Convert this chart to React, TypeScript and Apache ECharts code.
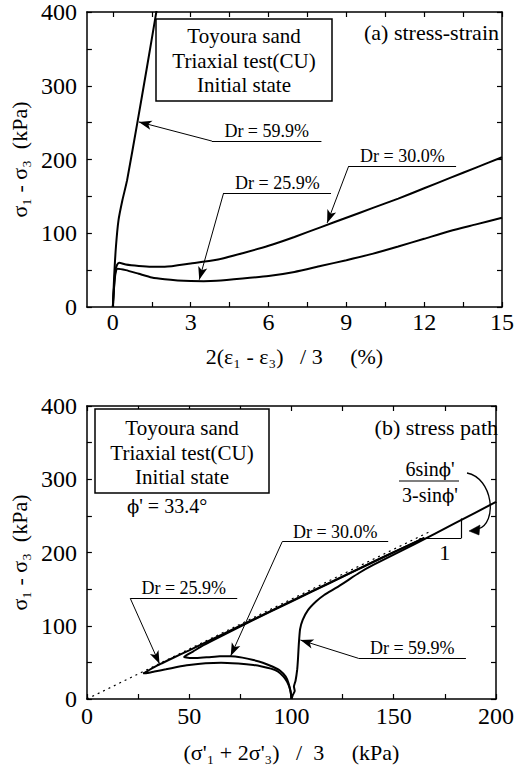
import React, { useEffect, useRef } from "react";
import * as echarts from "echarts";

// ---------- data ----------
// (a) stress-strain: [axial strain measure (%), deviator stress (kPa)]
const dr599Strain: number[][] = [
  [0, 0], [0.05, 41], [0.12, 82], [0.22, 118], [0.37, 145], [0.55, 172],
  [0.95, 251], [1.3, 322], [1.7, 405],
];
const dr300Strain: number[][] = [
  [0, 0], [0.05, 30], [0.1, 50], [0.16, 57], [0.24, 60], [0.5, 57.5], [1, 55.5],
  [1.5, 54.5], [2, 54.5], [3, 59], [4, 64], [5, 73], [6, 83], [7, 95], [8, 108],
  [9, 121], [10, 134], [11, 147], [12, 161], [13, 175], [14, 189], [15, 203],
];
const dr259Strain: number[][] = [
  [0, 0], [0.05, 28], [0.1, 45], [0.18, 52], [0.5, 50], [1, 45], [1.5, 40],
  [2, 37.5], [2.5, 36], [3, 35.2], [3.5, 35], [4, 35.5], [5, 38.5], [6, 42],
  [7, 47.5], [8, 55.5], [9, 63.5], [10, 72], [11, 82], [12, 92.5], [13, 103],
  [14, 112], [15, 121],
];

// (b) stress path: [p' (kPa), q (kPa)]
const dr599Path: number[][] = [
  [100, 0], [100.6, 5], [101.6, 11], [101.2, 17], [102, 25], [102.8, 40],
  [103.2, 55], [103.6, 75], [104.2, 95], [105.5, 108], [108, 121], [112, 133],
  [116, 142], [122, 152], [127, 161], [133, 172], [140, 183], [160, 211],
  [180, 240], [200, 269],
];
const dr300Path: number[][] = [
  [100, 0], [99.6, 10], [98.5, 22], [97.2, 30.5], [94.5, 38.5], [90.9, 44],
  [86, 49.5], [81.4, 53.2], [76, 56.5], [70.3, 58.5], [65, 58.3], [59.2, 57],
  [54, 56], [50, 56], [47.5, 57.5], [52, 65], [57, 73.5], [65, 85], [80, 106],
  [100, 133], [120, 160], [140, 187], [165, 220],
];
const dr259Path: number[][] = [
  [100, 0], [99.7, 8], [99, 16], [97.8, 24], [96, 31], [93.5, 37.5], [90, 41.5],
  [85.5, 44.5], [81.4, 46.4], [74, 48.3], [65.6, 49.6], [58, 48.8], [50, 46.4],
  [44, 43.6], [38.6, 40.5], [33, 37.5], [29.5, 35.5], [27.5, 35], [28.5, 36.5],
  [32, 42], [36, 48], [42, 56], [50, 66.5], [60, 80], [75, 100], [95, 127],
  [120, 160.5], [145, 194], [165, 220],
];
const failureLine: number[][] = [[0, 0], [168, 229]];

// axis ticks
const strainLabels = [0, 3, 6, 9, 12, 15];
const strainTicks = [0, 1.5, 3, 4.5, 6, 7.5, 9, 10.5, 12, 13.5, 15];
const qLabels = [0, 100, 200, 300, 400];
const qTicks = [0, 50, 100, 150, 200, 250, 300, 350, 400];
const pLabels = [0, 50, 100, 150, 200];
const pTicks = [0, 25, 50, 75, 100, 125, 150, 175, 200];

// annotation anchors (data coordinates)
const notesA = [
  { text: "Dr = 59.9%", x1: 3.82, x2: 8.04, y: 225, tx: 1.0, ty: 251 },
  { text: "Dr = 30.0%", x1: 9.09, x2: 13.23, y: 191, tx: 8.26, ty: 114 },
  { text: "Dr = 25.9%", x1: 4.27, x2: 8.41, y: 154.6, tx: 3.33, ty: 37 },
];
const notesB = [
  { text: "Dr = 59.9%", x1: 132.8, x2: 185.3, y: 55.5, tx: 104.4, ty: 80.5 },
  { text: "Dr = 30.0%", x1: 95.5, x2: 147.3, y: 214.8, tx: 70.3, ty: 58.8 },
  { text: "Dr = 25.9%", x1: 21.2, x2: 73.5, y: 137.4, tx: 35.5, ty: 48 },
];

const FONT = "Liberation Serif, serif";
const BLACK = "#000";

function noteMarkLine(notes: typeof notesA) {
  const data: any[] = [];
  notes.forEach((n) => {
    data.push([
      {
        coord: [n.x1, n.y],
        symbol: "none",
        label: {
          show: true,
          position: "insideMiddleTop",
          formatter: n.text,
          distance: 1,
          color: BLACK,
          fontFamily: FONT,
          fontSize: 18,
        },
      },
      { coord: [n.x2, n.y], symbol: "none" },
    ]);
    data.push([
      { coord: [n.x1, n.y], symbol: "none", label: { show: false } },
      { coord: [n.tx, n.ty], symbol: "arrow", symbolSize: [7, 13] },
    ]);
  });
  return {
    silent: true,
    animation: false,
    symbol: ["none", "arrow"],
    lineStyle: { color: BLACK, width: 1, type: "solid" },
    label: { show: false },
    emphasis: { disabled: true },
    data,
  };
}

function axisCommon() {
  return {
    type: "value",
    axisLine: { show: true, onZero: false, lineStyle: { color: BLACK, width: 1.5 } },
    splitLine: { show: false },
  };
}

const App: React.FC = () => {
  const ref = useRef<HTMLDivElement>(null);
  useEffect(() => {
    document.body.style.margin = "0";
    const chart = echarts.init(ref.current!, null, { renderer: "svg" });
    const labelStyle = { color: BLACK, fontFamily: FONT, fontSize: 24 };
    const nameStyle = { color: BLACK, fontFamily: FONT, fontSize: 22 };
    const nb = "\u00A0";
    const tickStyle = { inside: true, length: 5, lineStyle: { color: BLACK, width: 1.2 } };
    const lineSeries = (data: number[][], xi: number, yi: number, extra: any = {}) => ({
      type: "line",
      xAxisIndex: xi,
      yAxisIndex: yi,
      data,
      showSymbol: false,
      symbol: "none",
      smooth: 0.2,
      clip: true,
      lineStyle: { color: BLACK, width: 2 },
      emphasis: { disabled: true },
      ...extra,
    });
    const phiRich = {
      p: { fontFamily: "DejaVu Serif", fontSize: 18, fill: BLACK, color: BLACK },
      t: { fontFamily: FONT, fontSize: 20, fill: BLACK, color: BLACK },
    };
    const txt = (text: string, x: number, y: number, size: number, align = "center", rich?: any) => ({
      type: "text",
      x,
      y,
      z: 11,
      style: {
        text, fill: BLACK, font: `${size}px ${FONT}`,
        align, verticalAlign: "middle", textAlign: align, textVerticalAlign: "middle",
        ...(rich ? { rich } : {}),
      },
    });

    const option: any = {
      animation: false,
      backgroundColor: "#fff",
      textStyle: { fontFamily: FONT },
      grid: [
        { left: 82, top: 12, right: 10, bottom: 462 },
        { left: 82, top: 406, right: 14, bottom: 70 },
      ],
      xAxis: [
        {
          ...axisCommon(),
          gridIndex: 0,
          min: -1,
          max: 15,
          position: "bottom",
          axisTick: { ...tickStyle, customValues: strainTicks },
          axisLabel: { ...labelStyle, margin: 3, customValues: strainLabels },
          name: `2(ε₁ - ε₃)${nb}${nb}${nb}/${nb}3${nb}${nb}${nb}${nb}${nb}(%)`,
          nameLocation: "middle",
          nameGap: 38,
          nameTextStyle: nameStyle,
        },
        {
          ...axisCommon(),
          gridIndex: 0,
          min: -1,
          max: 15,
          position: "top",
          axisTick: { ...tickStyle, customValues: strainTicks },
          axisLabel: { show: false },
        },
        {
          ...axisCommon(),
          gridIndex: 1,
          min: 0,
          max: 200,
          interval: 25,
          position: "bottom",
          axisTick: { ...tickStyle, customValues: pTicks },
          axisLabel: { ...labelStyle, margin: 5, customValues: pLabels },
          name: `(σ'₁ + 2σ'₃)${nb}${nb}${nb}/${nb}${nb}3${nb}${nb}${nb}${nb}${nb}(kPa)`,
          nameLocation: "middle",
          nameGap: 42,
          nameTextStyle: nameStyle,
        },
        {
          ...axisCommon(),
          gridIndex: 1,
          min: 0,
          max: 200,
          interval: 25,
          position: "top",
          axisTick: { ...tickStyle, customValues: pTicks },
          axisLabel: { show: false },
        },
      ],
      yAxis: [
        {
          ...axisCommon(),
          gridIndex: 0,
          min: 0,
          max: 400,
          interval: 50,
          position: "left",
          axisTick: { ...tickStyle, customValues: qTicks },
          axisLabel: { ...labelStyle, margin: 10, customValues: qLabels },
          name: `σ₁ - σ₃${nb}${nb}(kPa)`,
          nameLocation: "middle",
          nameGap: 56,
          nameTextStyle: nameStyle,
        },
        {
          ...axisCommon(),
          gridIndex: 0,
          min: 0,
          max: 400,
          interval: 50,
          position: "right",
          axisTick: { ...tickStyle, customValues: qTicks },
          axisLabel: { show: false },
        },
        {
          ...axisCommon(),
          gridIndex: 1,
          min: 0,
          max: 400,
          interval: 50,
          position: "left",
          axisTick: { ...tickStyle, customValues: qTicks },
          axisLabel: { ...labelStyle, margin: 10, customValues: qLabels },
          name: `σ₁ - σ₃${nb}${nb}(kPa)`,
          nameLocation: "middle",
          nameGap: 56,
          nameTextStyle: nameStyle,
        },
        {
          ...axisCommon(),
          gridIndex: 1,
          min: 0,
          max: 400,
          interval: 50,
          position: "right",
          axisTick: { ...tickStyle, customValues: qTicks },
          axisLabel: { show: false },
        },
      ],
      series: [
        lineSeries(dr599Strain, 0, 0, { markLine: noteMarkLine(notesA) }),
        lineSeries(dr300Strain, 0, 0),
        lineSeries(dr259Strain, 0, 0),
        lineSeries(failureLine, 2, 2, {
          smooth: false,
          lineStyle: { color: BLACK, width: 1.2, type: [2, 4] },
          markLine: {
            silent: true,
            symbol: "none",
            lineStyle: { color: BLACK, width: 1.2, type: "solid" },
            emphasis: { disabled: true },
            data: [
              [
                {
                  coord: [162.5, 219.4],
                  label: {
                    show: true,
                    position: "insideEndBottom",
                    formatter: "1",
                    distance: 3,
                    color: BLACK,
                    fontFamily: FONT,
                    fontSize: 22,
                    padding: [0, 8, 0, 0],
                  },
                },
                { coord: [183, 219.4] },
              ],
              [
                { coord: [183, 219.4], label: { show: false } },
                { coord: [183, 246.5] },
              ],
            ],
          },
        }),
        lineSeries(dr599Path, 2, 2, { smooth: 0.15, markLine: noteMarkLine(notesB) }),
        lineSeries(dr300Path, 2, 2, { smooth: 0.15 }),
        lineSeries(dr259Path, 2, 2, { smooth: 0.15 }),
      ],
      graphic: [
        {
          type: "rect",
          shape: { x: 156, y: 19, width: 176, height: 82 },
          style: { fill: "#fff", stroke: BLACK, lineWidth: 1.5 },
          z: 10,
        },
        ...["Toyoura sand", "Triaxial test(CU)", "Initial state"].map((t, i) =>
          txt(t, 244, 36 + i * 24.5, 21)
        ),
        txt("(a) stress-strain", 499, 32, 22, "right"),
        {
          type: "rect",
          shape: { x: 95, y: 409, width: 174, height: 84 },
          style: { fill: "#fff", stroke: BLACK, lineWidth: 1.5 },
          z: 10,
        },
        ...["Toyoura sand", "Triaxial test(CU)", "Initial state"].map((t, i) =>
          txt(t, 182, 428 + i * 24.5, 21)
        ),
        txt("{p|\u03D5}{t|' = 33.4°}", 127, 506, 20, "left", phiRich),
        txt("(b) stress path", 498, 427, 22, "right"),
        txt("{t|6sin}{p|\u03D5}{t|'}", 430, 469, 20, "center", phiRich),
        {
          type: "line",
          shape: { x1: 399, y1: 481, x2: 459, y2: 481 },
          style: { stroke: BLACK, lineWidth: 1.2 },
          z: 11,
        },
        txt("{t|3-sin}{p|\u03D5}{t|'}", 430, 495, 20, "center", phiRich),
        {
          type: "bezierCurve",
          shape: { x1: 467, y1: 473, cpx1: 493, cpy1: 478, cpx2: 498, cpy2: 523, x2: 478, y2: 529 },
          style: { stroke: BLACK, lineWidth: 1.3, fill: "none" },
          z: 11,
        },
        {
          type: "polygon",
          shape: { points: [[469, 531], [480, 525], [479, 535]] },
          style: { fill: BLACK, stroke: BLACK, lineWidth: 0.5 },
          z: 11,
        },
      ],
    };
    chart.setOption(option);
    return () => chart.dispose();
  }, []);
  return (
    <div
      ref={ref}
      style={{ position: "absolute", left: 0, top: 0, width: 517, height: 769, background: "#fff" }}
    />
  );
};

export default App;
